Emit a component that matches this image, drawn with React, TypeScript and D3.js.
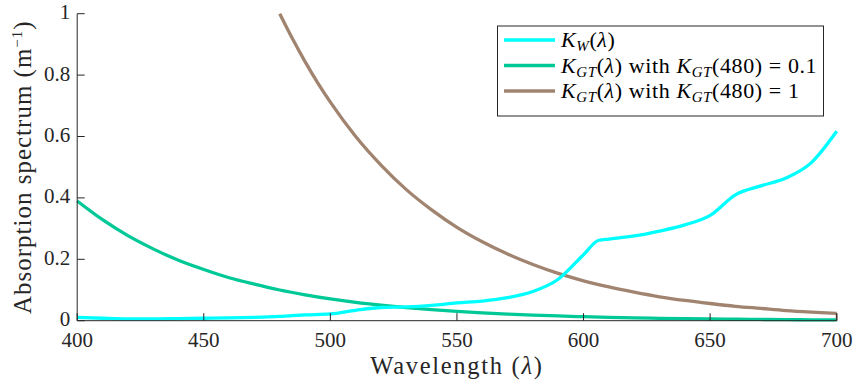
import React from "react";
import * as d3 from "d3";

// Wavelength grid (nm) and absorption values (m^-1)
const wavelengths = [400, 410, 420, 430, 440, 450, 460, 470, 480, 490, 500, 510, 520, 530, 540, 550, 560, 570, 580, 590, 600, 610, 620, 630, 640, 650, 660, 670, 680, 690, 700];

// Pure water absorption K_W
const waterLambda = [400, 410, 420, 430, 440, 450, 460, 470, 480, 490, 500, 510, 520, 530, 540, 550, 560, 570, 580, 590, 600, 606, 610, 620, 630, 640, 650, 660, 670, 680, 690, 700];
const waterK = [0.011, 0.008, 0.006, 0.006, 0.007, 0.008, 0.009, 0.011, 0.014, 0.019, 0.022, 0.034, 0.043, 0.045, 0.05, 0.058, 0.064, 0.075, 0.095, 0.135, 0.215, 0.262, 0.266, 0.276, 0.292, 0.312, 0.343, 0.41, 0.439, 0.465, 0.515, 0.617];

// Gelbstoff + tripton absorption with K_GT(480) = 0.1
const gtLow = [0.39, 0.329, 0.277, 0.234, 0.197, 0.167, 0.14, 0.119, 0.1, 0.0844, 0.0712, 0.06, 0.0507, 0.0427, 0.0361, 0.0304, 0.0257, 0.0217, 0.0183, 0.0154, 0.013, 0.011, 0.0093, 0.0078, 0.0066, 0.0056, 0.0047, 0.004, 0.0033, 0.0028, 0.0024];

// Same spectrum with K_GT(480) = 1 (shown from 480 nm, where it enters the axes)
const gtHighLambda = [480, 485, 490, 495, 500, 510, 520, 530, 540, 550, 560, 570, 580, 590, 600, 610, 620, 630, 640, 650, 660, 670, 680, 690, 700];
const gtHigh = [1.0, 0.919, 0.844, 0.775, 0.712, 0.6, 0.507, 0.427, 0.361, 0.304, 0.257, 0.217, 0.183, 0.154, 0.13, 0.11, 0.093, 0.078, 0.066, 0.056, 0.047, 0.04, 0.033, 0.028, 0.024];

const xTicks = [400, 450, 500, 550, 600, 650, 700];
const yTicks = [0, 0.2, 0.4, 0.6, 0.8, 1];

const COLORS = { water: "#00FFFF", gtLow: "#00C896", gtHigh: "#A08470" };
const FONT = "Liberation Serif";

export default function App() {
  const W = 855, H = 383;
  const x = d3.scaleLinear().domain([400, 700]).range([77.2, 836.7]);
  const y = d3.scaleLinear().domain([0, 1]).range([320.7, 13.7]);

  const line = d3
    .line<[number, number]>()
    .x((d) => x(d[0]))
    .y((d) => y(d[1]))
    .curve(d3.curveMonotoneX);

  const waterPts: [number, number][] = waterLambda.map((l, i) => [l, waterK[i]]);
  const lowPts: [number, number][] = wavelengths.map((l, i) => [l, gtLow[i]]);
  const highPts: [number, number][] = gtHighLambda.map((l, i) => [l, gtHigh[i]]);
  const lastHigh = highPts[highPts.length - 1];

  const axisColor = "#262626";
  const tickLen = 7.5;

  const legendX = 497.5, legendY = 26, legendW = 326, legendH = 90;
  const rowY = [40, 65.5, 91];
  const fs = 22, sub = 15;

  const Kgt = () => (
    <>
      <tspan fontStyle="italic">K</tspan>
      <tspan fontStyle="italic" fontSize={sub} dy={4}>GT</tspan>
      <tspan dy={-4}>(</tspan>
    </>
  );

  return (
    <svg width={W} height={H} fontFamily={FONT} style={{ position: "absolute", left: 0, top: 0 }}>
      {/* data lines */}
      <path d={line(lowPts) || ""} fill="none" stroke={COLORS.gtLow} strokeWidth={3.3} />
      <path d={line(highPts) || ""} fill="none" stroke={COLORS.gtHigh} strokeWidth={3.3} />
      <line x1={x(lastHigh[0])} x2={x(lastHigh[0])} y1={y(lastHigh[1])} y2={y(0)} stroke={COLORS.gtHigh} strokeWidth={2} />
      <path d={line(waterPts) || ""} fill="none" stroke={COLORS.water} strokeWidth={3.3} />

      {/* axes */}
      <line x1={x(400)} x2={x(400)} y1={y(1)} y2={y(0)} stroke={axisColor} strokeWidth={1} />
      <line x1={x(400)} x2={x(700)} y1={y(0)} y2={y(0)} stroke={axisColor} strokeWidth={1} />
      {yTicks.map((t) => (
        <g key={"y" + t}>
          <line x1={x(400)} x2={x(400) + tickLen} y1={y(t)} y2={y(t)} stroke={axisColor} strokeWidth={1} />
          <text x={x(400) - 7} y={y(t) + 5.5} textAnchor="end" fontSize={21} fontFamily={FONT} fill="#262626">
            {d3.format("~g")(t)}
          </text>
        </g>
      ))}
      {xTicks.map((t) => (
        <g key={"x" + t}>
          <line x1={x(t)} x2={x(t)} y1={y(0)} y2={y(0) - tickLen} stroke={axisColor} strokeWidth={1} />
          <text x={x(t)} y={346.5} textAnchor="middle" fontSize={21} fontFamily={FONT} fill="#262626">
            {t}
          </text>
        </g>
      ))}

      {/* axis titles */}
      <text x={(x(400) + x(700)) / 2} y={373.5} textAnchor="middle" fontSize={24.5} fontFamily={FONT} letterSpacing={1.7} fill="#262626">
        Wavelength (<tspan fontStyle="italic">λ</tspan>)
      </text>
      <text
        transform={`translate(31,${(y(0) + y(1)) / 2}) rotate(-90)`}
        textAnchor="middle"
        fontSize={25}
        fontFamily={FONT}
        letterSpacing={1.0}
        fill="#262626"
      >
        Absorption spectrum (m<tspan fontSize={15} dy={-9}>−1</tspan><tspan dy={9}>)</tspan>
      </text>

      {/* legend */}
      <rect x={legendX} y={legendY} width={legendW} height={legendH} fill="#fff" stroke="#262626" strokeWidth={1} />
      <line x1={504} x2={555} y1={rowY[0]} y2={rowY[0]} stroke={COLORS.water} strokeWidth={3.3} />
      <line x1={504} x2={555} y1={rowY[1]} y2={rowY[1]} stroke={COLORS.gtLow} strokeWidth={3.3} />
      <line x1={504} x2={555} y1={rowY[2]} y2={rowY[2]} stroke={COLORS.gtHigh} strokeWidth={3.3} />
      <text x={561} y={rowY[0] + 7} fontSize={fs} fontFamily={FONT} fill="#000" letterSpacing={0.6}>
        <tspan fontStyle="italic">K</tspan>
        <tspan fontStyle="italic" fontSize={sub} dy={4}>W</tspan>
        <tspan dy={-4}>(</tspan>
        <tspan fontStyle="italic">λ</tspan>)
      </text>
      <text x={561} y={rowY[1] + 7} fontSize={fs} fontFamily={FONT} fill="#000" letterSpacing={0.6}>
        {Kgt()}
        <tspan fontStyle="italic">λ</tspan>) with {Kgt()}480) = 0.1
      </text>
      <text x={561} y={rowY[2] + 7} fontSize={fs} fontFamily={FONT} fill="#000" letterSpacing={0.6}>
        {Kgt()}
        <tspan fontStyle="italic">λ</tspan>) with {Kgt()}480) = 1
      </text>
    </svg>
  );
}
